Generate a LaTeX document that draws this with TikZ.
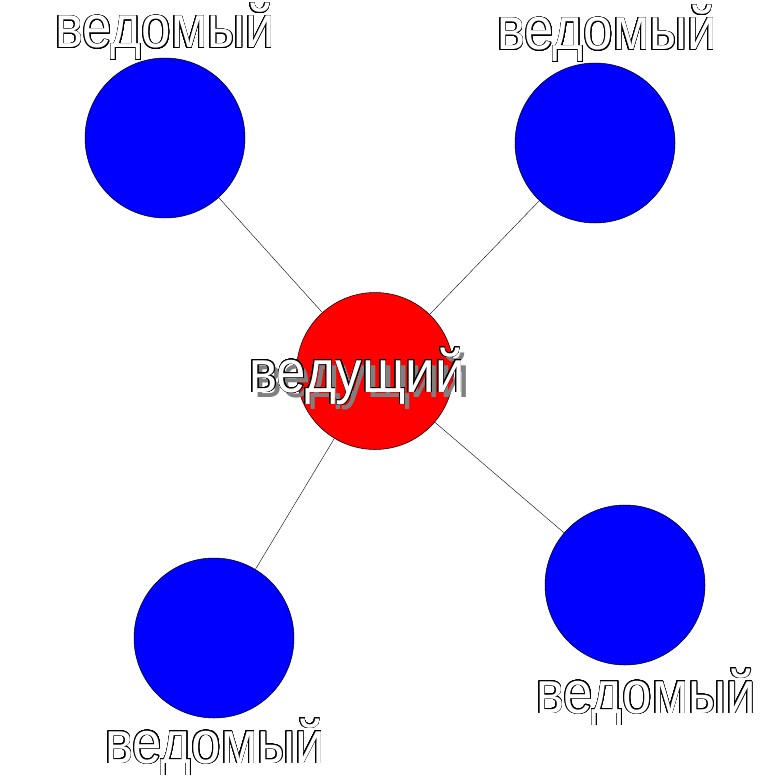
\documentclass[tikz,border=0pt]{standalone}
\usepackage{fontspec}
\usepackage{xcolor}
\usepackage{contour}
\usetikzlibrary{positioning}
\newfontfamily\lblfont[FakeStretch=0.88]{Liberation Sans}
\contourlength{0.7pt}
\contournumber{32}
\definecolor{slaveblue}{RGB}{0,0,255}
\definecolor{masterred}{RGB}{255,0,0}
\newcommand{\outl}[1]{\contour{black}{\textcolor{white}{#1}}}
\tikzset{
  dev/.style={circle, draw=black, line width=0.5pt, minimum size=160pt, inner sep=0pt},
  slave/.style={dev, fill=slaveblue},
  master/.style={dev, fill=masterred, minimum size=157pt},
  lbl/.style={inner sep=0pt, anchor=base, font=\lblfont\fontsize{60}{64}\selectfont},
  link/.style={line width=0.4pt, black},
}
\begin{document}
\begin{tikzpicture}[x=1pt, y=-1pt]
\useasboundingbox (0,0) rectangle (766,778);
\node[master] (mst) at (375,371) {};
\node[slave] (sl1) at (165,138) {};
\node[slave] (sl2) at (595,143) {};
\node[slave] (sl3) at (214,638) {};
\node[slave] (sl4) at (625,585) {};
\foreach \to in {sl1, sl2, sl3, sl4}
  \draw[link] (mst) -- (\to);
% labels
\node[lbl, text=gray] (mstshadow) at (362,397) {ведущий};
\node[lbl] (mstlbl) at (357,392) {\outl{ведущий}};
\node[lbl] (sl1lbl) at (165,48) {\outl{ведомый}};
\node[lbl] (sl2lbl) at (607,50) {\outl{ведомый}};
\node[lbl] (sl3lbl) at (215,763) {\outl{ведомый}};
\node[lbl] (sl4lbl) at (646,713) {\outl{ведомый}};
\end{tikzpicture}
\end{document}
